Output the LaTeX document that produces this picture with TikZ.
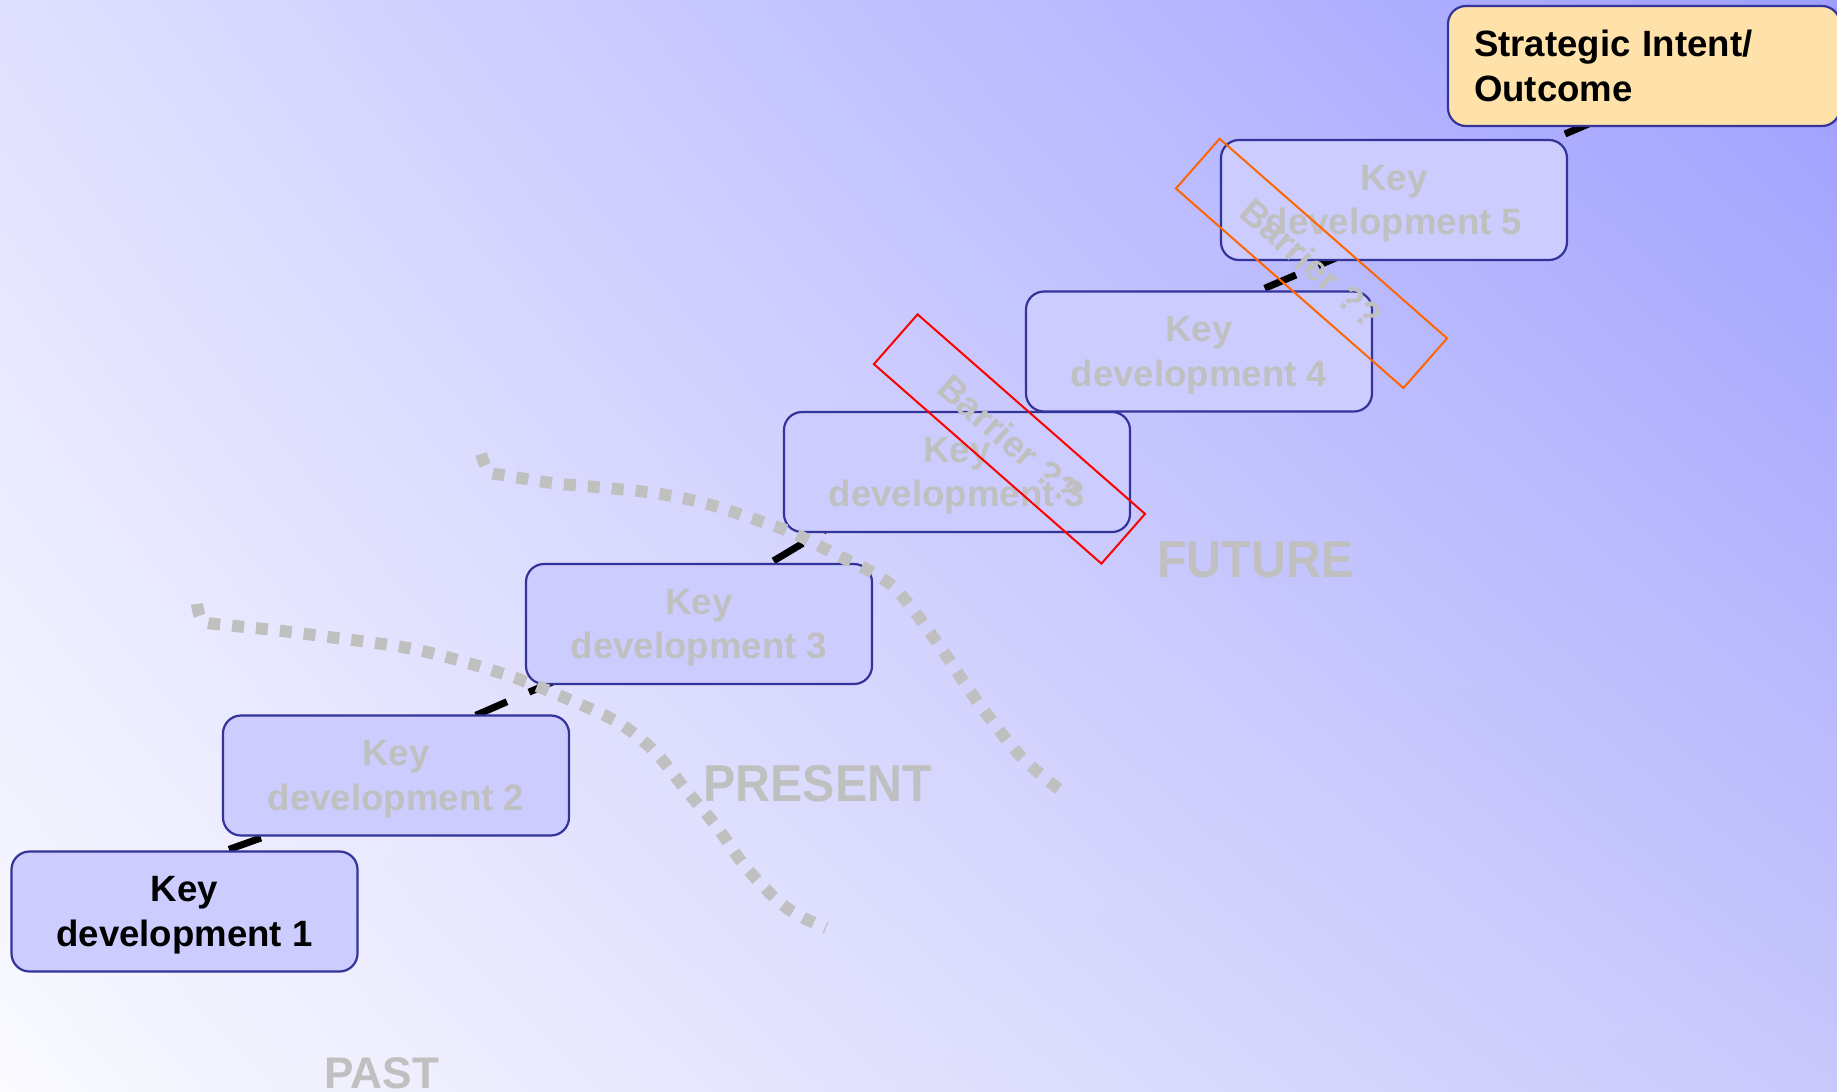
\documentclass[tikz,border=0pt]{standalone}
\usepackage{fontspec}
\setmainfont{Liberation Sans}
\usepackage{graphicx}
\usetikzlibrary{calc,shadings}
\definecolor{boxfill}{RGB}{204,204,255}
\definecolor{boxline}{RGB}{51,51,153}
\definecolor{txtgray}{RGB}{192,192,192}
\definecolor{goalfill}{RGB}{255,226,170}
\definecolor{bgUL}{RGB}{224,224,255}
\definecolor{bgUR}{RGB}{158,158,255}
\definecolor{bgLL}{RGB}{250,250,255}
\definecolor{bgLR}{RGB}{200,200,252}
\definecolor{barred}{RGB}{255,0,0}
\definecolor{barorange}{RGB}{255,102,0}
\pgfdeclarelayer{bglayer}
\pgfdeclarelayer{connlayer}
\pgfsetlayers{bglayer,connlayer,main}
\begin{document}
\begin{tikzpicture}[x=0.5pt,y=-0.5pt,
  boxfont/.style={font=\bfseries\fontsize{18.3pt}{22.3pt}\selectfont},
  keybox/.style={boxfont, draw=boxline, line width=1.1pt, fill=boxfill,
    rounded corners=9pt, minimum width=173pt, minimum height=60pt,
    inner sep=0pt, outer sep=0pt, align=center, text depth=-2.4pt},
  faded/.style={text=txtgray},
  goalbox/.style={boxfont, draw=boxline, line width=1.1pt, fill=goalfill,
    rounded corners=9pt, text width=170pt, inner xsep=13pt, inner ysep=0pt,
    minimum height=60pt, outer sep=0pt, align=left},
  link/.style={line width=3.5pt, black, dash pattern=on 17pt off 12pt},
  boundary/.style={line width=6pt, txtgray, dash pattern=on 6pt off 6pt},
  barrier/.style={boxfont, draw, line width=1pt, minimum width=151.3pt,
    minimum height=33.1pt, inner sep=0pt, rotate=-41.25, text=txtgray},
  era/.style={text=txtgray, inner sep=0pt, anchor=base west},
  bigera/.style={era, font=\bfseries\fontsize{26pt}{26pt}\selectfont}
]
\useasboundingbox (0,0) rectangle (1837,1092);
\begin{pgfonlayer}{bglayer}
\shade[upper left=bgUL, upper right=bgUR, lower left=bgLL, lower right=bgLR]
  (0,0) rectangle (1837,1092);
\end{pgfonlayer}

% boxes
\node[keybox] (kd1) at (184.5,911.5) {Key\\development 1};
\node[keybox, faded] (kd2) at (396,775.5) {Key\\development 2};
\node[keybox, faded] (kd3) at (699,624) {Key\\development 3};
\node[keybox, faded] (kd3b) at (957,472) {Key\\development 3};
\node[keybox, faded] (kd4) at (1199,351.5) {Key\\development 4};
\node[keybox, faded] (kd5) at (1394,200) {Key\\development 5};
\node[goalbox] (goal) at (1644,66) {Strategic Intent/\\Outcome};

% connectors (behind boxes)
\begin{pgfonlayer}{connlayer}
\draw[link] ($(kd1.north west)+(217.5,-2.1)$) -- ($(kd2.south west)+(66.2,-7.6)$);
\draw[link] ($(kd2.north west)+(252.8,-0.2)$) -- ($(kd3.south west)+(36,-6.2)$);
\draw[link] ($(kd3.north west)+(247.5,-3.1)$) -- ($(kd3b.south west)+(53,-9.3)$);
\draw[link] ($(kd3b.north west)+(266,28)$) -- ($(kd4.south west)+(74,-1.5)$);
\draw[link] ($(kd4.north west)+(238.7,-3.2)$) -- ($(kd5.south west)+(121,-4.7)$);
\draw[link] ($(kd5.north west)+(290.6,16.7)$) -- ($(goal.south west)+(153.8,-7.7)$);
\end{pgfonlayer}

% dotted boundaries
\draw[boundary] plot[smooth, tension=0.55] coordinates {(197,604) (203,621) (226,625) (274,630) (329,637) (418,650) (507,675) (570,700) (619,723) (655,752) (686,790) (717,827) (744,865) (777,900) (800,916) (826,928)};
\draw[boundary] plot[smooth, tension=0.55] coordinates {(481,454) (489,472) (503,475) (552,483) (596,487) (654,493) (704,503) (748,517) (793,533) (833,553) (890,584) (934,638) (972,694) (1015,750) (1046,779) (1066,794)};

% barriers
\node[barrier, draw=barred] (bar1) at (1009.5,439) {Barrier ??};
\node[barrier, draw=barorange] (bar2) at (1311.5,263.4) {Barrier ??};

% era labels
\node[era, font=\bfseries\fontsize{22.1pt}{22.1pt}\selectfont] (past) at (324,1088) {PAST};
\node[bigera] (present) at (703,801.7) {\scalebox{0.93}[1]{PRESENT}};
\node[bigera] (future) at (1157,577.7) {\scalebox{0.93}[1]{FUTURE}};
\end{tikzpicture}
\end{document}
